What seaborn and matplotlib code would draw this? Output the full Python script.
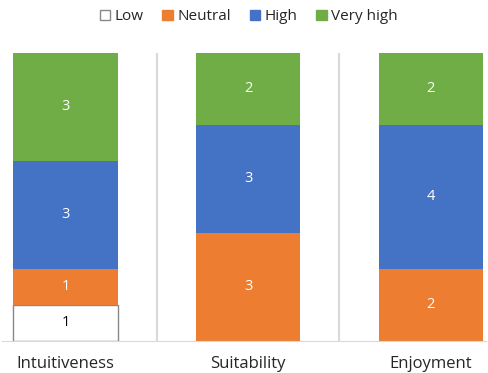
import seaborn as sns
import pandas as pd
import matplotlib.pyplot as plt
from matplotlib.patches import Patch

categories = ['Intuitiveness', 'Suitability', 'Enjoyment']
levels = ['Low', 'Neutral', 'High', 'Very high']
low = [1, 0, 0]
neutral = [1, 3, 2]
high = [3, 3, 4]
very_high = [3, 2, 2]

colors = {'Low': 'white', 'Neutral': '#ED7D31', 'High': '#4472C4', 'Very high': '#70AD47'}

sns.set_style('white')
plt.rcParams['font.family'] = ['Open Sans', 'DejaVu Sans']

fig = plt.figure(figsize=(4.88, 3.73), dpi=100)
ax = fig.add_axes([0.005, 0.086, 0.99, 0.772])

counts = {'Low': low, 'Neutral': neutral, 'High': high, 'Very high': very_high}
bottom = [0, 0, 0]
for lvl in levels:
    data = pd.DataFrame({'Item': categories, 'Count': counts[lvl]})
    edge = '#888888' if lvl == 'Low' else 'none'
    sns.barplot(x='Item', y='Count', data=data, color=colors[lvl], width=0.57,
                bottom=bottom, edgecolor=edge, linewidth=1, saturation=1, ax=ax)
    for i, v in enumerate(counts[lvl]):
        if v > 0:
            ax.text(i, bottom[i] + v / 2, str(v), ha='center', va='center', fontsize=10.5,
                    color='black' if lvl == 'Low' else 'white')
    bottom = [b + v for b, v in zip(bottom, counts[lvl])]

ax.set_xlim(-0.345, 2.3)
ax.set_ylim(0, 8)
for x in [0.5, 1.5]:
    ax.axvline(x, color='#d9d9d9', lw=1.5, zorder=0)
for s in ['top', 'left', 'right']:
    ax.spines[s].set_visible(False)
ax.spines['bottom'].set_color('#d9d9d9')
ax.set_yticks([])
ax.set_xlabel('')
ax.set_ylabel('')
ax.tick_params(axis='x', length=0, pad=11, labelsize=12)

handles = [Patch(facecolor=colors[l], edgecolor='#888888' if l == 'Low' else colors[l], label=l)
           for l in levels]
fig.legend(handles=handles, loc='upper center', bbox_to_anchor=(0.51, 1.012), ncol=4, frameon=False,
           fontsize=11, handlelength=0.7, handleheight=0.7, handletextpad=0.3, columnspacing=1.2)

fig.savefig('out.png', dpi=100)
